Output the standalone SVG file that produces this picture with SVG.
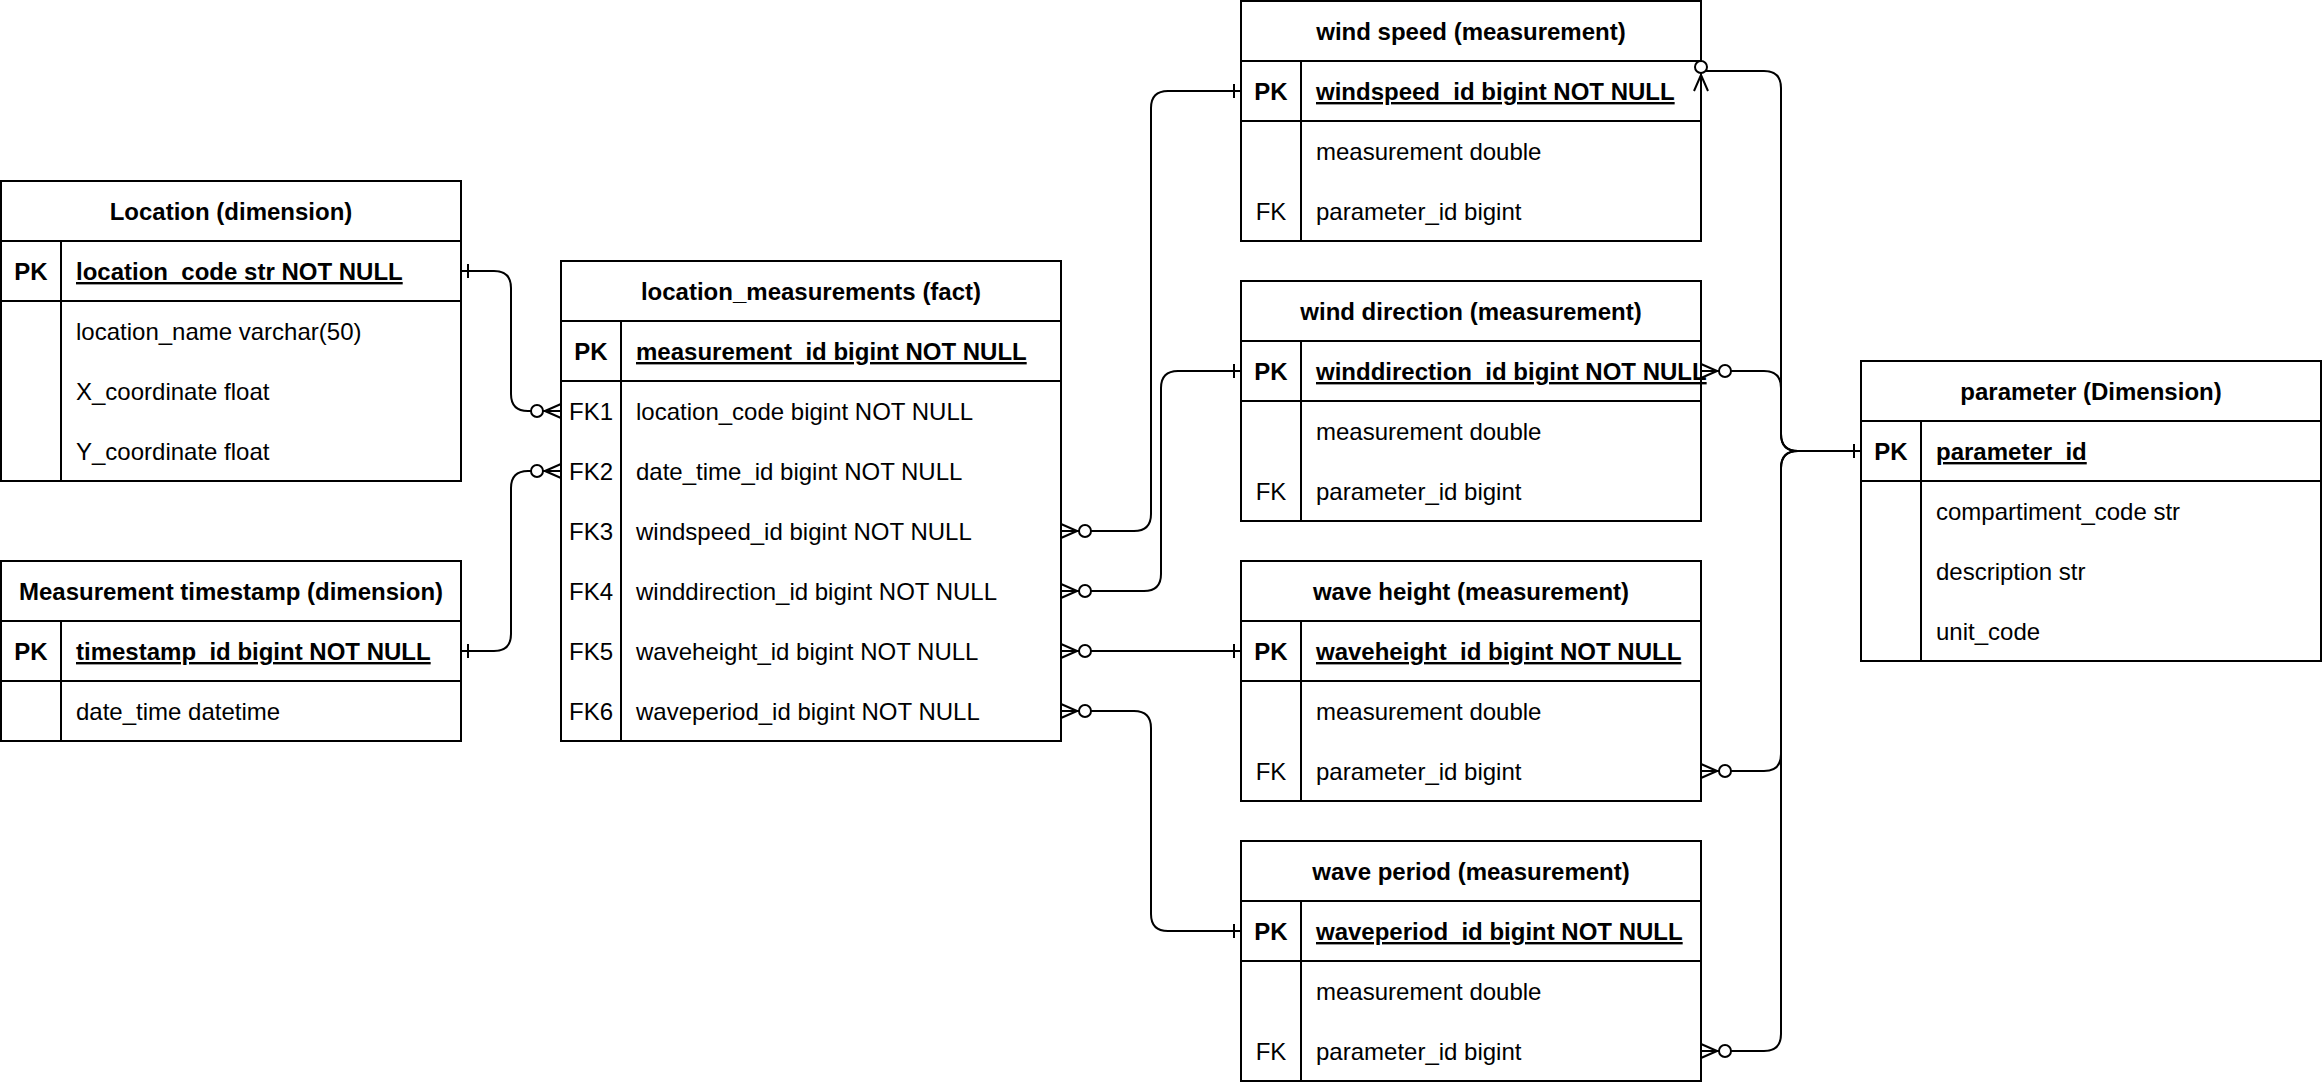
<svg xmlns="http://www.w3.org/2000/svg" xmlns:xlink="http://www.w3.org/1999/xlink" width="2322" height="1082" viewBox="0 0 2322 1082">
<style>
text{font-family:"Liberation Sans",Arial,Helvetica,sans-serif;font-size:24px;fill:#000}
.t{font-weight:bold;text-anchor:middle}
.k{text-anchor:middle}
.kb{text-anchor:middle;font-weight:bold}
.pk{font-weight:bold;text-decoration:underline}
.box{fill:#fff;stroke:#000;stroke-width:2}
.ln{stroke:#000;stroke-width:2;fill:none}
.edge{stroke:#000;stroke-width:2;fill:none}
.mk{stroke:#000;stroke-width:2;fill:none}
.mc{stroke:#000;stroke-width:2;fill:#fff}
</style>
<defs>
<g id="zmany"><path class="mk" d="M0,-7 L16,0 M0,0 L16,0 M0,7 L16,0"/><circle class="mc" cx="24" cy="0" r="6"/></g>
<g id="one"><path class="mk" d="M7,-7 L7,7"/></g>
</defs>
<rect x="0" y="0" width="2322" height="1082" fill="#fff"/>

<g id="location">
<rect class="box" x="1" y="181" width="460" height="300"/>
<path class="ln" d="M1,241 H461 M1,301 H461 M61,241 V481"/>
<text class="t" x="231" y="220">Location (dimension)</text>
<text class="kb" x="31" y="280">PK</text>
<text class="pk" x="76" y="280">location_code str NOT NULL</text>
<text x="76" y="340">location_name varchar(50)</text>
<text x="76" y="400">X_coordinate float</text>
<text x="76" y="460">Y_coordinate float</text>
</g>

<g id="timestamp">
<rect class="box" x="1" y="561" width="460" height="180"/>
<path class="ln" d="M1,621 H461 M1,681 H461 M61,621 V741"/>
<text class="t" x="231" y="600">Measurement timestamp (dimension)</text>
<text class="kb" x="31" y="660">PK</text>
<text class="pk" x="76" y="660">timestamp_id bigint NOT NULL</text>
<text x="76" y="720">date_time datetime</text>
</g>

<g id="fact">
<rect class="box" x="561" y="261" width="500" height="480"/>
<path class="ln" d="M561,321 H1061 M561,381 H1061 M621,321 V741"/>
<text class="t" x="811" y="300">location_measurements (fact)</text>
<text class="kb" x="591" y="360">PK</text>
<text class="pk" x="636" y="360">measurement_id bigint NOT NULL</text>
<text class="k" x="591" y="420">FK1</text><text x="636" y="420">location_code bigint NOT NULL</text>
<text class="k" x="591" y="480">FK2</text><text x="636" y="480">date_time_id bigint NOT NULL</text>
<text class="k" x="591" y="540">FK3</text><text x="636" y="540">windspeed_id bigint NOT NULL</text>
<text class="k" x="591" y="600">FK4</text><text x="636" y="600">winddirection_id bigint NOT NULL</text>
<text class="k" x="591" y="660">FK5</text><text x="636" y="660">waveheight_id bigint NOT NULL</text>
<text class="k" x="591" y="720">FK6</text><text x="636" y="720">waveperiod_id bigint NOT NULL</text>
</g>

<g id="windspeed">
<rect class="box" x="1241" y="1" width="460" height="240"/>
<path class="ln" d="M1241,61 H1701 M1241,121 H1701 M1301,61 V241"/>
<text class="t" x="1471" y="40">wind speed (measurement)</text>
<text class="kb" x="1271" y="100">PK</text>
<text class="pk" x="1316" y="100">windspeed_id bigint NOT NULL</text>
<text x="1316" y="160">measurement double</text>
<text class="k" x="1271" y="220">FK</text><text x="1316" y="220">parameter_id bigint</text>
</g>

<g id="winddirection">
<rect class="box" x="1241" y="281" width="460" height="240"/>
<path class="ln" d="M1241,341 H1701 M1241,401 H1701 M1301,341 V521"/>
<text class="t" x="1471" y="320">wind direction (measurement)</text>
<text class="kb" x="1271" y="380">PK</text>
<text class="pk" x="1316" y="380">winddirection_id bigint NOT NULL</text>
<text x="1316" y="440">measurement double</text>
<text class="k" x="1271" y="500">FK</text><text x="1316" y="500">parameter_id bigint</text>
</g>

<g id="waveheight">
<rect class="box" x="1241" y="561" width="460" height="240"/>
<path class="ln" d="M1241,621 H1701 M1241,681 H1701 M1301,621 V801"/>
<text class="t" x="1471" y="600">wave height (measurement)</text>
<text class="kb" x="1271" y="660">PK</text>
<text class="pk" x="1316" y="660">waveheight_id bigint NOT NULL</text>
<text x="1316" y="720">measurement double</text>
<text class="k" x="1271" y="780">FK</text><text x="1316" y="780">parameter_id bigint</text>
</g>

<g id="waveperiod">
<rect class="box" x="1241" y="841" width="460" height="240"/>
<path class="ln" d="M1241,901 H1701 M1241,961 H1701 M1301,901 V1081"/>
<text class="t" x="1471" y="880">wave period (measurement)</text>
<text class="kb" x="1271" y="940">PK</text>
<text class="pk" x="1316" y="940">waveperiod_id bigint NOT NULL</text>
<text x="1316" y="1000">measurement double</text>
<text class="k" x="1271" y="1060">FK</text><text x="1316" y="1060">parameter_id bigint</text>
</g>

<g id="parameter">
<rect class="box" x="1861" y="361" width="460" height="300"/>
<path class="ln" d="M1861,421 H2321 M1861,481 H2321 M1921,421 V661"/>
<text class="t" x="2091" y="400">parameter (Dimension)</text>
<text class="kb" x="1891" y="460">PK</text>
<text class="pk" x="1936" y="460">parameter_id</text>
<text x="1936" y="520">compartiment_code str</text>
<text x="1936" y="580">description str</text>
<text x="1936" y="640">unit_code</text>
</g>

<g id="connectors">
<path class="edge" d="M461,271 L494,271 Q511,271 511,288 L511,394 Q511,411 528,411 L561,411"/>
<path class="edge" d="M461,651 L494,651 Q511,651 511,634 L511,488 Q511,471 528,471 L561,471"/>
<path class="edge" d="M1061,531 L1134,531 Q1151,531 1151,514 L1151,108 Q1151,91 1168,91 L1241,91"/>
<path class="edge" d="M1061,591 L1144,591 Q1161,591 1161,574 L1161,388 Q1161,371 1178,371 L1241,371"/>
<path class="edge" d="M1061,651 L1241,651"/>
<path class="edge" d="M1061,711 L1134,711 Q1151,711 1151,728 L1151,914 Q1151,931 1168,931 L1241,931"/>
<path class="edge" d="M1701,91 L1701,71 L1764,71 Q1781,71 1781,88 L1781,434 Q1781,451 1798,451 L1861,451"/>
<path class="edge" d="M1701,371 L1764,371 Q1781,371 1781,388 L1781,434 Q1781,451 1798,451 L1861,451"/>
<path class="edge" d="M1701,771 L1764,771 Q1781,771 1781,754 L1781,468 Q1781,451 1798,451 L1861,451"/>
<path class="edge" d="M1701,1051 L1764,1051 Q1781,1051 1781,1034 L1781,468 Q1781,451 1798,451 L1861,451"/>
<use xlink:href="#one" transform="translate(461,271)"/>
<use xlink:href="#one" transform="translate(461,651)"/>
<use xlink:href="#zmany" transform="translate(561,411) rotate(180)"/>
<use xlink:href="#zmany" transform="translate(561,471) rotate(180)"/>
<use xlink:href="#zmany" transform="translate(1061,531)"/>
<use xlink:href="#zmany" transform="translate(1061,591)"/>
<use xlink:href="#zmany" transform="translate(1061,651)"/>
<use xlink:href="#zmany" transform="translate(1061,711)"/>
<use xlink:href="#one" transform="translate(1241,91) rotate(180)"/>
<use xlink:href="#one" transform="translate(1241,371) rotate(180)"/>
<use xlink:href="#one" transform="translate(1241,651) rotate(180)"/>
<use xlink:href="#one" transform="translate(1241,931) rotate(180)"/>
<use xlink:href="#zmany" transform="translate(1701,91) rotate(-90)"/>
<use xlink:href="#zmany" transform="translate(1701,371)"/>
<use xlink:href="#zmany" transform="translate(1701,771)"/>
<use xlink:href="#zmany" transform="translate(1701,1051)"/>
<use xlink:href="#one" transform="translate(1861,451) rotate(180)"/>
</g>
</svg>
